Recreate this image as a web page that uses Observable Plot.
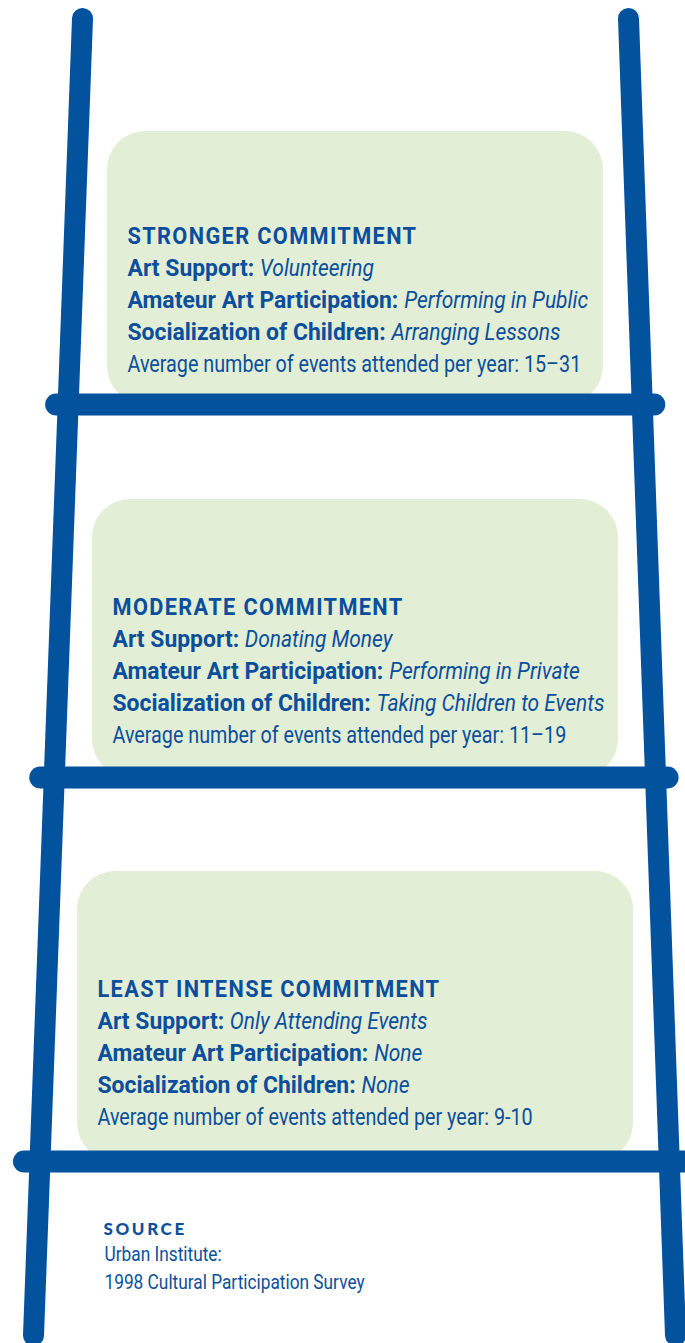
<!DOCTYPE html>
<html>
<head>
<meta charset="utf-8">
<script src="https://cdn.jsdelivr.net/npm/d3@7"></script>
<script src="https://cdn.jsdelivr.net/npm/@observablehq/plot@0.6"></script>
<style>
  html, body { margin: 0; padding: 0; background: #fff; }
  g[aria-description="titles"] text { letter-spacing: 1.5px; }
  g[aria-description="source-head"] text { letter-spacing: 2.6px; }
</style>
</head>
<body>
<div id="chart"></div>
<script>
// ---- data ----
const tiers = ["STRONGER COMMITMENT", "MODERATE COMMITMENT", "LEAST INTENSE COMMITMENT"];
const rowLabels = ["Art Support:", "Amateur Art Participation:", "Socialization of Children:"];
const artSupport = ["Volunteering", "Donating Money", "Only Attending Events"];
const amateurParticipation = ["Performing in Public", "Performing in Private", "None"];
const childSocialization = ["Arranging Lessons", "Taking Children to Events", "None"];
const eventsPerYear = ["15–31", "11–19", "9-10"];
const sourceHead = "SOURCE";
const sourceLines = ["Urban Institute:", "1998 Cultural Participation Survey"];

// ---- style ----
const W = 685, H = 1343;
const railColor = "#03529e";
const textColor = "#0b4f9c";
const boxColor = "#e2eed5";
const FONT = 'Roboto, "Liberation Sans", sans-serif';
const FS = 24;      // main text size
const SFS = 21;     // source text size
const TITLE_LS = 1.5;

// ---- layout (derived from tier index) ----
const rungY = i => 404 + 373 * i + 5.5 * i * (i - 1);
const boxX1 = i => 107 - 15 * i;
const boxX2 = i => 603 + 15 * i;
const boxY1 = i => 131 + 368 * i + 2 * i * (i - 1);
const titleY = i => rungY(i) - 168 - 2 * i;
const railTop = 18, railBottom = 1335;
const leftRail = {x1: 82, x2: 33}, rightRail = {x1: 628, x2: 675};
const railX = (r, y) => r.x1 + (r.x2 - r.x1) * (y - railTop) / (railBottom - railTop);

const ctx = document.createElement("canvas").getContext("2d");
function measure(text, weight, style, size) {
  ctx.font = `${style || "normal"} ${weight || "normal"} ${size || FS}px ${FONT}`;
  return ctx.measureText(text).width;
}
// horizontal condensing so the sans face reads like the original condensed face
const eventLine = i => `Average number of events attended per year: ${eventsPerYear[i]}`;
const SX = 454 / measure(eventLine(0));                                   // regular
const SXB = 271 / measure(rowLabels[1], "bold");                           // bold labels
const SXI = 184 / measure(amateurParticipation[0], "normal", "italic");    // italic values
const SXT = 290 / (measure(tiers[0], "bold") + TITLE_LS * tiers[0].length); // titles

const boxes = tiers.map((t, i) => ({x1: boxX1(i), x2: boxX2(i), y1: boxY1(i), y2: rungY(i)}));
const rails = [leftRail, rightRail].map(r => ({x1: r.x1, y1: railTop, x2: r.x2, y2: railBottom}));
const rungs = tiers.map((t, i) => {
  const y = rungY(i);
  return {y, x1: railX(leftRail, y) - 12 - 2 * i, x2: railX(rightRail, y) + (i === 2 ? 40 : 12)};
});

const titles = tiers.map((t, i) => ({text: t, x: boxX1(i) + 20, y: titleY(i)}));
const labelRows = [], valueRows = [], eventRows = [];
tiers.forEach((t, i) => {
  const values = [artSupport[i], amateurParticipation[i], childSocialization[i]];
  rowLabels.forEach((lab, j) => {
    const x = boxX1(i) + 20;
    const y = titleY(i) + 32 * (j + 1);
    labelRows.push({text: lab, x, y});
    valueRows.push({text: values[j], x: x + SXB * measure(lab + " ", "bold"), y});
  });
  eventRows.push({text: eventLine(i), x: boxX1(i) + 20, y: titleY(i) + 128});
});

const sourceRows = sourceLines.map((s, k) => ({text: s, x: 104, y: 1254 + 28 * k}));

const plot = Plot.plot({
  width: W, height: H,
  margin: 0,
  x: {domain: [0, W], range: [0, W], axis: null},
  y: {domain: [0, H], range: [0, H], axis: null},
  style: {background: "#fff", overflow: "hidden"},
  marks: [
    Plot.rect(boxes, {x1: "x1", x2: "x2", y1: "y1", y2: "y2", fill: boxColor, rx: 38, ry: 38}),
    Plot.link(rails, {x1: "x1", y1: "y1", x2: "x2", y2: "y2", stroke: railColor, strokeWidth: 21, strokeLinecap: "round"}),
    Plot.link(rungs, {x1: "x1", y1: "y", x2: "x2", y2: "y", stroke: railColor, strokeWidth: 22, strokeLinecap: "round"}),
    Plot.text(titles, {x: "x", y: "y", text: "text", textAnchor: "start", lineAnchor: "middle", fill: textColor,
      fontFamily: FONT, fontWeight: "bold", fontSize: FS, ariaDescription: "titles"}),
    Plot.text(labelRows, {x: "x", y: "y", text: "text", textAnchor: "start", lineAnchor: "middle", fill: textColor,
      fontFamily: FONT, fontWeight: "bold", fontSize: FS, ariaDescription: "bold"}),
    Plot.text(valueRows, {x: "x", y: "y", text: "text", textAnchor: "start", lineAnchor: "middle", fill: textColor,
      fontFamily: FONT, fontStyle: "italic", fontSize: FS, ariaDescription: "italic"}),
    Plot.text(eventRows, {x: "x", y: "y", text: "text", textAnchor: "start", lineAnchor: "middle", fill: textColor,
      fontFamily: FONT, fontSize: FS, ariaDescription: "regular"}),
    Plot.text([sourceHead], {x: () => 103, y: () => 1229, text: d => d, textAnchor: "start", lineAnchor: "middle", fill: textColor,
      fontFamily: "Lato, 'Open Sans', sans-serif", fontWeight: "900", fontSize: 17, ariaDescription: "source-head"}),
    Plot.text(sourceRows, {x: "x", y: "y", text: "text", textAnchor: "start", lineAnchor: "middle", fill: textColor,
      fontFamily: FONT, fontSize: SFS, ariaDescription: "regular"})
  ]
});
const squeeze = (sel, s) => d3.select(plot).selectAll(`g[aria-description="${sel}"] text`)
  .attr("transform", function() { return (this.getAttribute("transform") || "") + ` scale(${s},1)`; });
squeeze("regular", SX);
squeeze("bold", SXB);
squeeze("italic", SXI);
squeeze("titles", SXT);
document.getElementById("chart").appendChild(plot);
</script>
</body>
</html>
